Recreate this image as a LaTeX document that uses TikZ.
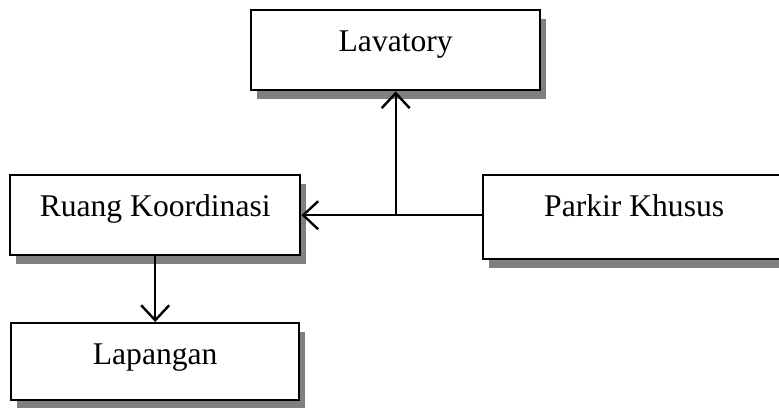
\documentclass[tikz,border=0pt]{standalone}
\usepackage{fontspec}
\setmainfont{Liberation Serif}
\usetikzlibrary{positioning, arrows.meta, shadows}

\tikzset{
    room/.style={draw, fill=white, line width=2.4pt, inner xsep=0pt, inner ysep=0pt,
        anchor=north west, text height=41pt,
        font=\fontsize{31.6pt}{36pt}\selectfont,
        drop shadow={shadow xshift=6pt, shadow yshift=-8.5pt, fill=black!50, opacity=1}},
    link/.style={line width=2.4pt, -{Straight Barb[length=15pt, width=28pt]}}
}

\begin{document}
\begin{tikzpicture}[x=1pt, y=-1pt]
    \clip (0,0) rectangle (779,407);
    \fill[white] (0,0) rectangle (779,407);

    \node[room, minimum width=289pt, text depth=39pt] (lavatory) at (250,9) {Lavatory};
    \node[room, minimum width=290pt, text depth=39pt] (koordinasi) at (9,174) {Ruang Koordinasi};
    \node[room, minimum width=302pt, text depth=43pt] (parkir) at (482,174) {Parkir Khusus};
    \node[room, minimum width=288pt, text depth=36pt] (lapangan) at (10,322) {Lapangan};

    \coordinate (simpang) at (lavatory.south |- koordinasi.east);

    \draw[link] (parkir.west |- koordinasi.east) -- (koordinasi.east);
    \draw[link] (simpang) -- (lavatory.south);
    \draw[link] (koordinasi.south) -- (lapangan.north);
\end{tikzpicture}
\end{document}
